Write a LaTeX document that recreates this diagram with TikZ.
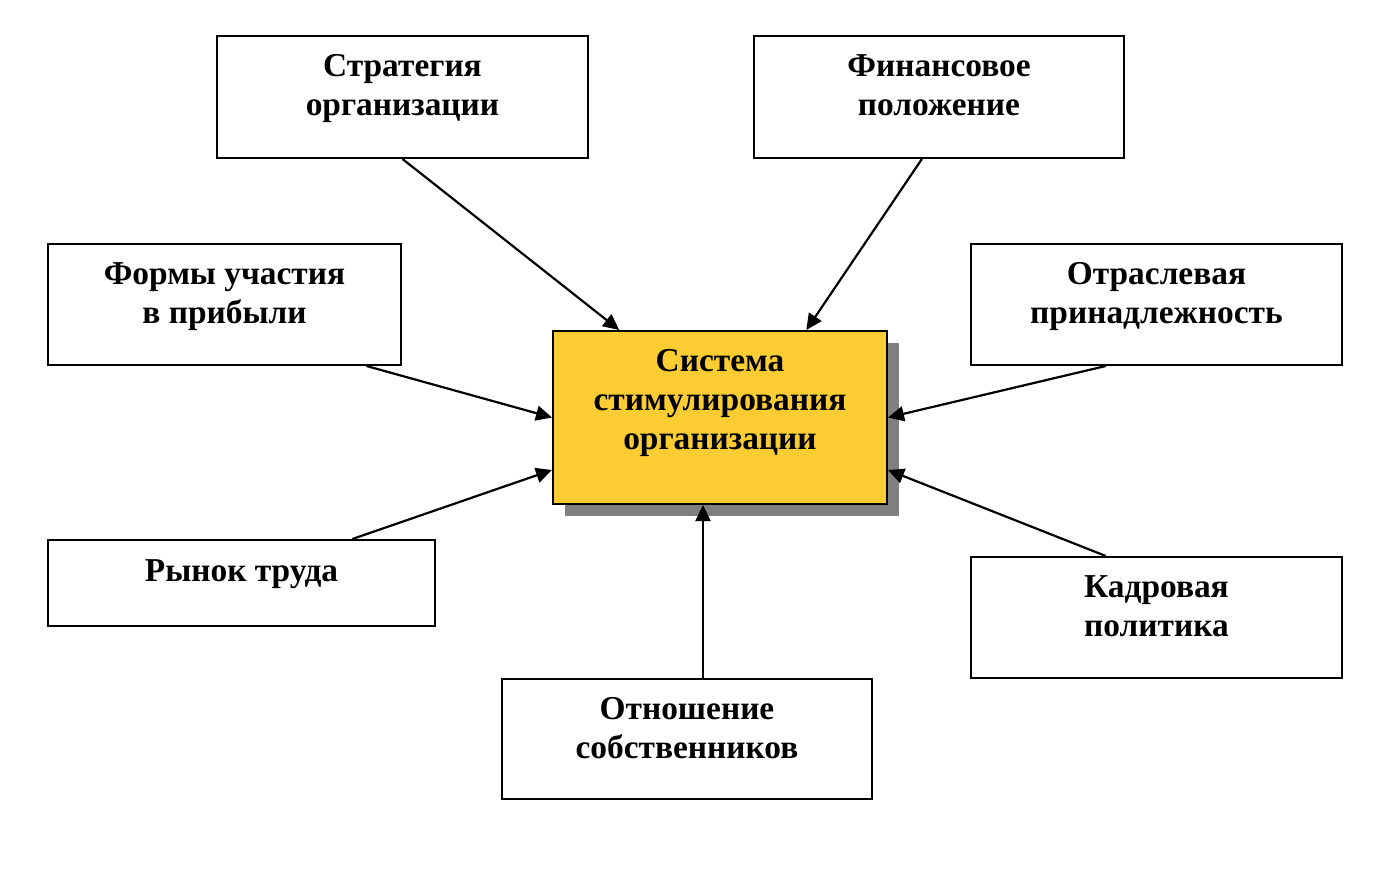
\documentclass[tikz,border=0pt]{standalone}
\usepackage{fontspec}
\setmainfont{Liberation Serif}
\usetikzlibrary{arrows.meta,calc,shadows}
\definecolor{sysyellow}{RGB}{252,204,51}

\tikzset{
  box/.style={draw, line width=1pt, inner sep=0pt},
  txt/.style={anchor=north, inner sep=0pt, align=center, yshift=-9.5pt,
    font=\bfseries\fontsize{16.7}{19.5}\selectfont, execute at begin node=\strut},
  arr/.style={-{Triangle[length=8pt,width=7.5pt]}, line width=1.1pt}
}

\begin{document}
\begin{tikzpicture}[x=0.5pt, y=-0.5pt]
    \useasboundingbox (0,0) rectangle (1394,878);

    % outer boxes
    \node[box, minimum width=185.5pt, minimum height=61pt] (strat) at (402.5,97) {};
    \node[box, minimum width=185pt, minimum height=61pt] (fin) at (939,97) {};
    \node[box, minimum width=176.5pt, minimum height=60.5pt] (forms) at (224.5,304.5) {};
    \node[box, minimum width=185.5pt, minimum height=60.5pt] (otr) at (1156.5,304.5) {};
    \node[box, minimum width=193.5pt, minimum height=43pt] (rynok) at (241.5,583) {};
    \node[box, minimum width=185.5pt, minimum height=60.5pt] (kadr) at (1156.5,617.5) {};
    \node[box, minimum width=185pt, minimum height=60pt] (otn) at (687,739) {};

    % central box
    \node[box, fill=sysyellow, minimum width=167pt, minimum height=86.5pt,
          drop shadow={shadow xshift=6pt, shadow yshift=-6pt, fill=black!50, opacity=1}] (sys) at (720,417.5) {};

    % texts
    \node[txt] (strat-t) at (strat.north) {Стратегия\\организации};
    \node[txt] (fin-t) at (fin.north) {Финансовое\\положение};
    \node[txt] (forms-t) at (forms.north) {Формы участия\\в прибыли};
    \node[txt] (otr-t) at (otr.north) {Отраслевая\\принадлежность};
    \node[txt, yshift=2pt] (rynok-t) at (rynok.north) {Рынок труда};
    \node[txt] (kadr-t) at (kadr.north) {Кадровая\\политика};
    \node[txt] (otn-t) at (otn.north) {Отношение\\собственников};
    \node[txt] (sys-t) at (sys.north) {Система\\стимулирования\\организации};

    % arrows
    \draw[arr] (strat.south) -- ($(sys.north west)!0.2!(sys.north east)$);
    \draw[arr] ($(fin.south west)!0.454!(fin.south east)$) -- ($(sys.north west)!0.757!(sys.north east)$);
    \draw[arr] ($(forms.south west)!0.9!(forms.south east)$) -- (sys.west);
    \draw[arr] ($(rynok.north west)!0.785!(rynok.north east)$) -- ($(sys.north west)!0.8!(sys.south west)$);
    \draw[arr] ($(otr.south west)!0.364!(otr.south east)$) -- (sys.east);
    \draw[arr] ($(kadr.north west)!0.364!(kadr.north east)$) -- ($(sys.north east)!0.8!(sys.south east)$);
    \coordinate (otn-a) at ($(otn.north west)!0.543!(otn.north east)$);
    \draw[arr] (otn-a) -- (otn-a |- sys.south);
\end{tikzpicture}
\end{document}
